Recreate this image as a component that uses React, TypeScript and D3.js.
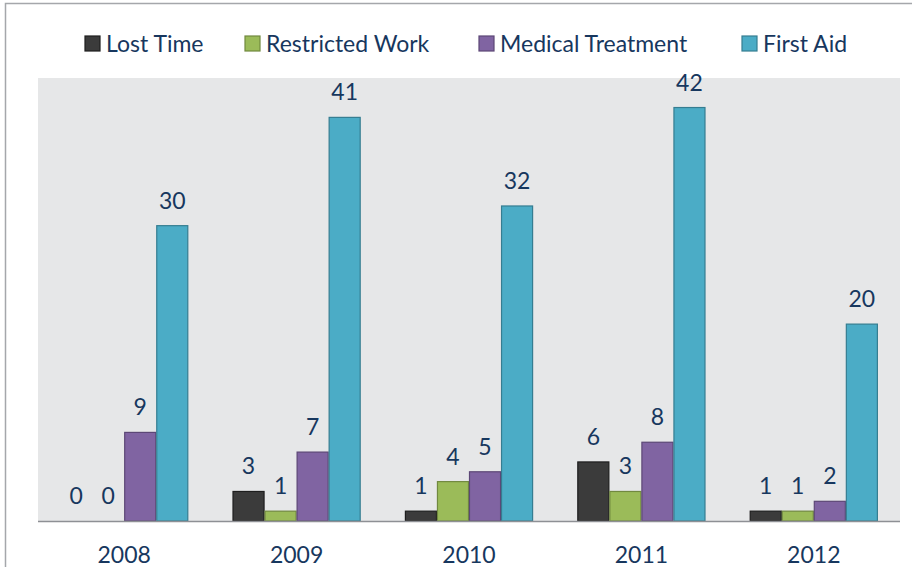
import React, { useEffect, useRef } from 'react';
import * as d3 from 'd3';

const years = ['2008', '2009', '2010', '2011', '2012'];
const seriesNames = ['Lost Time', 'Restricted Work', 'Medical Treatment', 'First Aid'];
const lostTime = [0, 3, 1, 6, 1];
const restrictedWork = [0, 1, 4, 3, 1];
const medicalTreatment = [9, 7, 5, 8, 2];
const firstAid = [30, 41, 32, 42, 20];
const fills = ['#3b3b3b', '#9bbb59', '#8064a2', '#4bacc6'];
const strokes = ['#1e1e1e', '#71893f', '#5c4776', '#357d91'];

export default function App() {
    const ref = useRef<SVGSVGElement>(null);

    useEffect(() => {
        const svg = d3.select(ref.current);
        svg.selectAll('*').remove();

        const W = 912, H = 567;
        const plot = { left: 38, right: 900, top: 78, bottom: 521 };
        const font = 'Lato, "Open Sans", sans-serif';
        const textColor = '#17375e';

        const values = [lostTime, restrictedWork, medicalTreatment, firstAid];

        // outer frame
        svg.append('rect').attr('x', 5.5).attr('y', 3.5).attr('width', W + 10).attr('height', H + 10)
            .attr('fill', '#fff').attr('stroke', '#a5a7ab').attr('stroke-width', 1.5);

        svg.append('rect').attr('x', plot.left).attr('y', plot.top)
            .attr('width', plot.right - plot.left).attr('height', plot.bottom - plot.top)
            .attr('fill', '#e6e7e8');

        const x0 = d3.scaleBand().domain(years).range([plot.left, plot.right]);
        const x1 = d3.scaleBand().domain(seriesNames).range([0, x0.bandwidth()]).paddingOuter(0.69);
        const y = d3.scaleLinear().domain([0, 45]).range([plot.bottom, plot.top]);

        values.forEach((vals, si) => {
            const g = svg.append('g');
            g.selectAll('rect').data(vals).enter().append('rect')
                .attr('x', (d, i) => x0(years[i])! + x1(seriesNames[si])! + 0.5)
                .attr('y', d => y(d))
                .attr('width', x1.bandwidth() - 1)
                .attr('height', d => y(0) - y(d))
                .attr('fill', fills[si])
                .attr('stroke', d => d > 0 ? strokes[si] : 'none')
                .attr('stroke-width', 1.2);
            g.selectAll('text').data(vals).enter().append('text')
                .attr('x', (d, i) => x0(years[i])! + x1(seriesNames[si])! + x1.bandwidth() / 2)
                .attr('y', d => y(d) - 17)
                .attr('text-anchor', 'middle')
                .attr('font-family', font).attr('font-size', 23).attr('fill', textColor)
                .text(d => d);
        });

        svg.append('line').attr('x1', plot.left).attr('x2', plot.right)
            .attr('y1', plot.bottom + 0.5).attr('y2', plot.bottom + 0.5)
            .attr('stroke', '#8e9095').attr('stroke-width', 1.5);

        svg.append('g').selectAll('text').data(years).enter().append('text')
            .attr('x', d => x0(d)! + x0.bandwidth() / 2)
            .attr('y', 563)
            .attr('text-anchor', 'middle')
            .attr('font-family', font).attr('font-size', 23).attr('fill', textColor)
            .text(d => d);

        // legend
        const legendX = [85, 245, 479, 742];
        const legend = svg.append('g').selectAll('g').data(seriesNames).enter().append('g')
            .attr('transform', (d, i) => `translate(${legendX[i]}, 36)`);
        legend.append('rect').attr('width', 15).attr('height', 15)
            .attr('fill', (d, i) => fills[i]).attr('stroke', (d, i) => strokes[i]).attr('stroke-width', 1.2);
        legend.append('text').attr('x', 21).attr('y', 16)
            .attr('font-family', font).attr('font-size', 23).attr('fill', textColor)
            .text(d => d);
    }, []);

    return (
        <div style={{ position: 'absolute', left: 0, top: 0 }}>
            <svg ref={ref} width={912} height={567} style={{ display: 'block' }} />
        </div>
    );
}
